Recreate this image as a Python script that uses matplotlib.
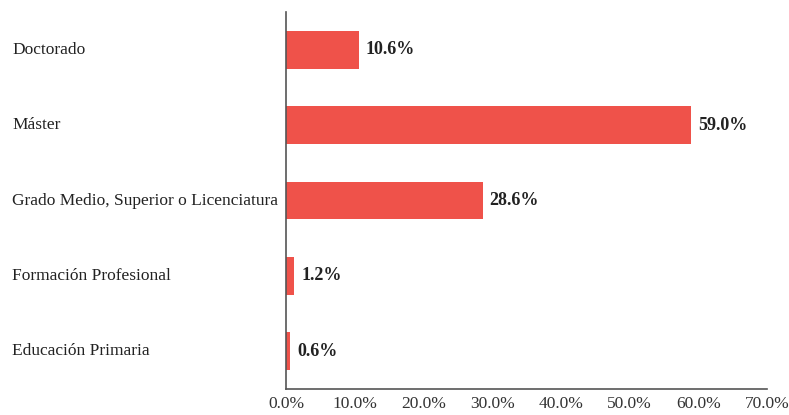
import matplotlib
matplotlib.use("Agg")
import matplotlib.pyplot as plt
from matplotlib.transforms import blended_transform_factory

categories = ["Doctorado", "Máster", "Grado Medio, Superior o Licenciatura",
              "Formación Profesional", "Educación Primaria"]
values = [10.6, 59.0, 28.6, 1.2, 0.6]
xticks = [0, 10, 20, 30, 40, 50, 60, 70]

plt.rcParams['font.family'] = ['Liberation Serif', 'DejaVu Serif']

fig = plt.figure(figsize=(7.89, 4.15), dpi=100)
ax = fig.add_axes([286/789, 26/415, (767-286)/789, (389-12)/415])

ypos = list(range(len(categories)))
ax.barh(ypos, values, height=0.5, color="#EF524A")
ax.set_ylim(len(categories)-0.5, -0.5)
ax.set_xlim(0, 70)
ax.set_xticks(xticks)
ax.set_xticklabels([f"{t:.1f}%" for t in xticks], fontsize=12.5, color="#333333")
ax.tick_params(axis='x', length=0, pad=5)
ax.set_yticks([])
for s in ['top', 'right']:
    ax.spines[s].set_visible(False)
for s in ['left', 'bottom']:
    ax.spines[s].set_color("#555555")
    ax.spines[s].set_linewidth(1.2)

tr = blended_transform_factory(fig.transFigure, ax.transData)
for y, c in zip(ypos, categories):
    ax.text(12/789, y, c, transform=tr, ha='left', va='center', fontsize=12.5, color="#222222")
for y, v in zip(ypos, values):
    ax.text(v + 1.0, y, f"{v:.1f}%", ha='left', va='center', fontsize=13,
            fontweight='bold', color="#222222")

fig.savefig("out.png", dpi=100)
